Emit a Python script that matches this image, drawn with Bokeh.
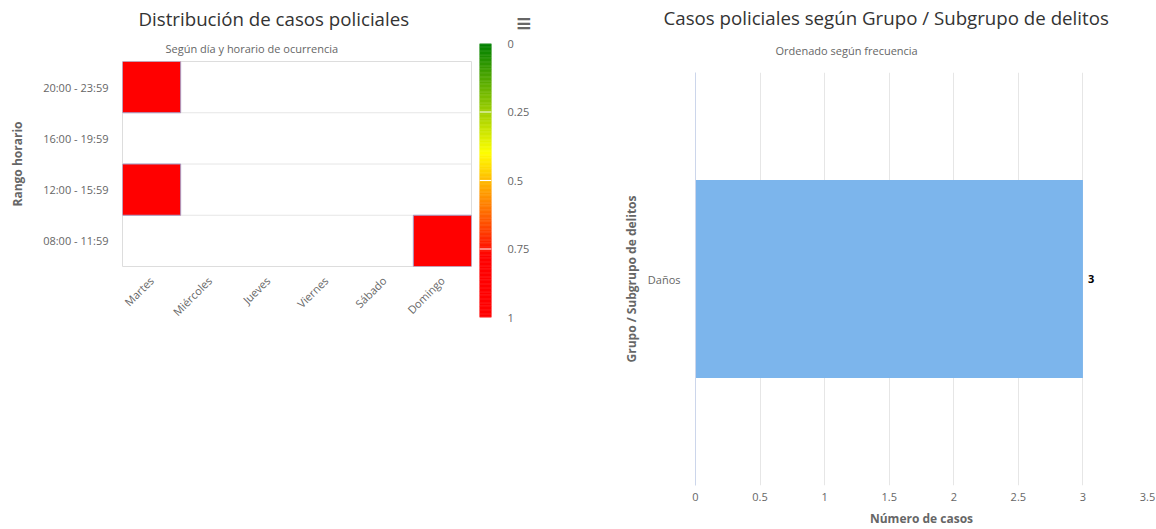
import numpy as np
from bokeh.plotting import figure
from bokeh.models import (FactorRange, Range1d, LinearColorMapper, Title, Span,
                          FixedTicker, ColumnDataSource, NumeralTickFormatter)
from bokeh.layouts import row
from bokeh.core.properties import value
from bokeh.embed import file_html
from bokeh.resources import INLINE

FONT = "Open Sans"

# ---------------- data: heatmap ----------------
dias = ["Martes", "Miércoles", "Jueves", "Viernes", "Sábado", "Domingo"]
horarios = ["08:00 - 11:59", "12:00 - 15:59", "16:00 - 19:59", "20:00 - 23:59"]
casos_dia = ["Martes", "Martes", "Domingo"]
casos_horario = ["20:00 - 23:59", "12:00 - 15:59", "08:00 - 11:59"]
casos_valor = [1, 1, 1]
colorbar_ticks = [0, 0.25, 0.5, 0.75, 1]

# ---------------- data: bars ----------------
grupos = ["Daños"]
grupos_casos = [3]
bar_ticks = [0, 0.5, 1, 1.5, 2, 2.5, 3, 3.5]

# colour scale stops (style)
stop_pos = [0.0, 0.4, 0.78, 1.0]
stop_hex = ["#008000", "#ffff00", "#ff0000", "#ff0000"]


def build_palette(n=256):
    rgb = [[int(h[i:i + 2], 16) for i in (1, 3, 5)] for h in stop_hex]
    out = []
    for t in np.linspace(0, 1, n):
        c = [int(round(np.interp(t, stop_pos, [s[k] for s in rgb]))) for k in range(3)]
        out.append("#%02x%02x%02x" % tuple(c))
    return out


palette = build_palette()
mapper = LinearColorMapper(palette=palette, low=0, high=1)

LABEL_C = "#666666"
TITLE_C = "#333333"
GRID_C = "#e6e6e6"
H = 529


def no_align(p):
    if "frame_align" in p.properties():
        p.frame_align = False


def make_title(text, offset, size, color, standoff, font=FONT, style="normal", valign="bottom"):
    t = Title(text=text, align="left", offset=offset, text_font=font, vertical_align=valign,
              text_font_size=size, text_color=color, text_font_style=style)
    if "standoff" in t.properties():
        t.standoff = standoff
    return t


def style_axis(ax):
    ax.major_tick_line_color = None
    ax.minor_tick_line_color = None
    ax.major_tick_out = 0
    ax.major_tick_in = 0
    ax.minor_tick_out = 0
    ax.minor_tick_in = 0
    ax.major_label_text_font = FONT
    ax.major_label_text_font_size = "11px"
    ax.major_label_text_color = LABEL_C
    ax.axis_label_text_font = FONT
    ax.axis_label_text_font_size = "12px"
    ax.axis_label_text_font_style = "bold"
    ax.axis_label_text_color = LABEL_C


# ---------------- heatmap ----------------
p1 = figure(width=475, height=H, title=None,
            x_range=FactorRange(*dias), y_range=FactorRange(*horarios),
            output_backend="svg", toolbar_location=None,
            min_border_left=122, min_border_right=4, min_border_top=61, min_border_bottom=H - 266)
no_align(p1)
src = ColumnDataSource(dict(dia=casos_dia, horario=casos_horario, valor=casos_valor))
p1.rect(x="dia", y="horario", width=1, height=1, source=src,
        fill_color={"field": "valor", "transform": mapper},
        line_color="#a69cc4", line_width=1)
p1.xgrid.visible = False
p1.ygrid.visible = False
for k in range(1, len(horarios)):
    sp = Span(location=k, dimension="width", line_color=GRID_C, line_width=1)
    sp.level = "underlay"
    p1.add_layout(sp)
p1.outline_line_color = "#dddddd"
for ax in (p1.xaxis[0], p1.yaxis[0]):
    style_axis(ax)
    ax.axis_line_color = None
p1.xaxis.major_label_orientation = np.pi / 4
p1.xaxis.major_label_standoff = 12
p1.yaxis.major_label_standoff = 14
p1.yaxis.axis_label = "Rango horario"
p1.yaxis.axis_label_standoff = 14
p1.add_layout(make_title("Según día y horario de ocurrencia", 43, "11px", LABEL_C, 11), "above")
p1.add_layout(make_title("Distribución de casos policiales", 16, "18.7px", TITLE_C, 6), "above")

# ---------------- colour bar ----------------
p2 = figure(width=85, height=H, title=None, x_range=Range1d(0, 1), y_range=Range1d(1, 0),
            y_axis_location="right", output_backend="svg", toolbar_location=None,
            min_border_left=4, min_border_right=69, min_border_top=43, min_border_bottom=H - 317)
no_align(p2)
edges = np.linspace(0, 1, 201)
csrc = ColumnDataSource(dict(bottom=edges[:-1], top=edges[1:], mid=(edges[:-1] + edges[1:]) / 2))
p2.quad(left=0, right=1, bottom="bottom", top="top", source=csrc,
        fill_color={"field": "mid", "transform": mapper},
        line_color={"field": "mid", "transform": mapper}, line_width=0.6)
for t in colorbar_ticks[1:-1]:
    p2.add_layout(Span(location=t, dimension="width", line_color="white", line_width=1))
p2.xaxis.visible = False
p2.xgrid.visible = False
p2.ygrid.visible = False
p2.outline_line_color = None
ya = p2.yaxis[0]
style_axis(ya)
ya.ticker = FixedTicker(ticks=colorbar_ticks)
ya.formatter = NumeralTickFormatter(format="0.[00]")
ya.axis_line_color = None
ya.major_label_standoff = 16
# export-menu icon of the left chart
p2.add_layout(make_title("≡", 36, "20px", "#666666", 17, font="DejaVu Sans", style="bold"), "above")

# ---------------- bar chart ----------------
p3 = figure(width=596, height=H, title=None,
            y_range=FactorRange(*grupos), x_range=Range1d(0, 3.5),
            output_backend="svg", toolbar_location=None,
            min_border_left=135, min_border_right=9, min_border_top=72, min_border_bottom=H - 485)
no_align(p3)
bsrc = ColumnDataSource(dict(grupo=grupos, casos=grupos_casos,
                             etiqueta=[str(v) for v in grupos_casos]))
p3.hbar(y="grupo", right="casos", left=0, height=0.48, source=bsrc,
        fill_color="#7cb5ec", line_color=None)
p3.text(x="casos", y="grupo", text="etiqueta", source=bsrc, x_offset=5,
        text_align="left", text_baseline="middle", text_font=value(FONT),
        text_font_size="11px", text_font_style="bold", text_color="#000000")
p3.ygrid.visible = False
p3.xgrid.ticker = FixedTicker(ticks=bar_ticks)
p3.xgrid.grid_line_color = GRID_C
p3.outline_line_color = None
xa = p3.xaxis[0]
style_axis(xa)
xa.ticker = FixedTicker(ticks=bar_ticks)
xa.formatter = NumeralTickFormatter(format="0.[0]")
xa.axis_line_color = None
xa.major_label_standoff = 7
xa.axis_label = "Número de casos"
xa.axis_label_standoff = 6
yb = p3.yaxis[0]
style_axis(yb)
yb.axis_line_color = "#ccd6eb"
yb.axis_label = "Grupo / Subgrupo de delitos"
yb.major_label_standoff = 15
yb.axis_label_standoff = 5
p3.add_layout(make_title("Ordenado según frecuencia", 80, "11px", LABEL_C, 26, valign="top"), "above")
p3.add_layout(make_title("Casos policiales según Grupo / Subgrupo de delitos", -32, "18.7px",
                         TITLE_C, 0), "above")

layout = row(p1, p2, p3, spacing=0)
open("out.html", "w").write(file_html(layout, INLINE))
